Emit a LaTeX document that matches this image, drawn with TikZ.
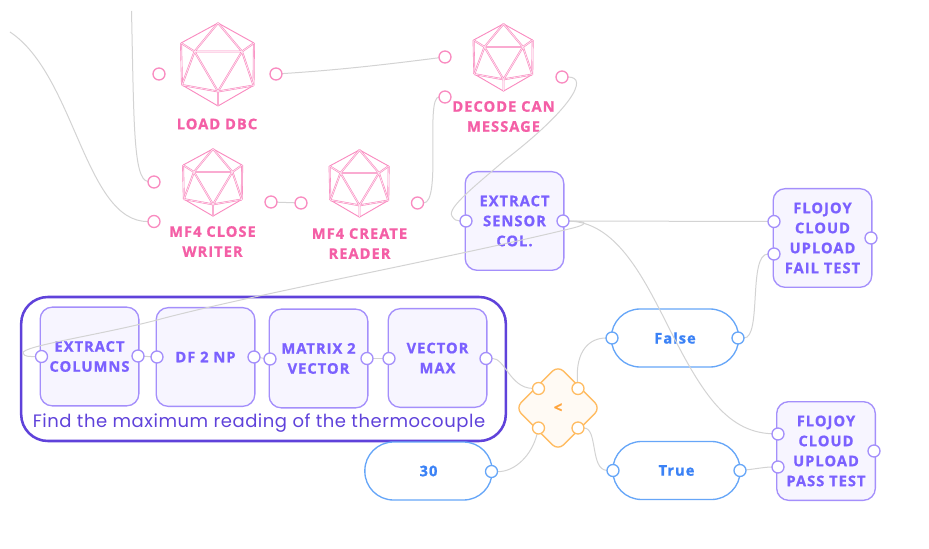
\documentclass[tikz,border=0pt]{standalone}
\usepackage{fontspec}
\setmainfont{Open Sans}[BoldFeatures={FakeBold=0.9},LetterSpace=7]
\newfontfamily\handfont{Poppins}[LetterSpace=3]
\definecolor{pinktxt}{HTML}{F45FA6}
\definecolor{pinkln}{HTML}{F98BC0}
\definecolor{purptxt}{HTML}{7B61FF}
\definecolor{purpln}{HTML}{A48FFB}
\definecolor{purpfill}{HTML}{F7F5FF}
\definecolor{bluetxt}{HTML}{3B82F6}
\definecolor{blueln}{HTML}{66A6F8}
\definecolor{orgln}{HTML}{FFBC62}
\definecolor{orgtxt}{HTML}{FFA53D}
\definecolor{orgfill}{HTML}{FFFAF4}
\definecolor{grpln}{HTML}{5F42DA}
\definecolor{wire}{HTML}{D3D3D3}
\pgfdeclarelayer{boxes}
\pgfdeclarelayer{wires}
\pgfsetlayers{boxes,wires,main}
\tikzset{
  lab/.style={font=\fontsize{11}{15}\selectfont\bfseries,align=center,inner sep=0pt},
  purpbox/.style={draw=purpln,fill=purpfill,line width=1pt,rounded corners=9pt,minimum width=74pt,minimum height=74pt,text=purptxt,lab},
  pill/.style={draw=blueln,fill=white,line width=1pt,rounded corners=21.5pt,minimum width=95.5pt,minimum height=43.5pt,text=bluetxt,lab},
  pinklab/.style={lab,text=pinktxt},
  port/.style={circle,fill=white,line width=1pt,minimum size=9pt,inner sep=0pt,outer sep=0pt},
  pport/.style={port,draw=pinkln},
  vport/.style={port,draw=purpln},
  bport/.style={port,draw=blueln},
  oport/.style={port,draw=orgln},
  wireln/.style={draw=wire,line width=0.75pt},
  ico/.style={draw=pinkln,line width=0.45pt,double=white!40!pinkln!35!white,double distance=0.5pt},
  icosa/.pic={
    \coordinate (T) at (0,-41.5);\coordinate (UR) at (36,-21.5);\coordinate (LR) at (35.5,21);
    \coordinate (B) at (0,41.5);\coordinate (LL) at (-36,20.5);\coordinate (UL) at (-37,-21.5);
    \coordinate (IL) at (-23.5,-13);\coordinate (IR) at (24,-13);\coordinate (IB) at (0,27);
    \draw[pinkln,line width=0.7pt,line join=round] (T)--(UR) (LR)--(B)--(LL) (UL)--(T);
    \draw[ico] (UR)--(LR) (LL)--(UL);
    \draw[ico] (T)--(IL) (T)--(IR) (UL)--(IL) (UR)--(IR) (LL)--(IL) (LR)--(IR) (LL)--(IB) (LR)--(IB) (B)--(IB) (IL)--(IR)--(IB)--cycle;
  }
}
\begin{document}
\begin{tikzpicture}[x=0.75pt,y=-0.75pt]
\useasboundingbox (0,0) rectangle (929,549);
\begin{pgfonlayer}{boxes}
  \node[draw=grpln,line width=1.9pt,rounded corners=20pt,minimum width=363.5pt,minimum height=108pt,inner sep=0pt] (group) at (263.5,369) {};
  \node[purpbox] (xcol) at (89.5,356.5) {EXTRACT\\COLUMNS};
  \node[purpbox] (df) at (205.5,357) {DF 2 NP};
  \node[purpbox] (mat) at (318.5,358.5) {MATRIX 2\\VECTOR};
  \node[purpbox] (vmax) at (437.5,358) {VECTOR\\MAX};
  \node[purpbox] (xsens) at (514.5,221) {EXTRACT\\SENSOR\\COL.};
  \node[purpbox] (fail) at (822.5,238) {FLOJOY\\CLOUD\\UPLOAD\\FAIL TEST};
  \node[purpbox] (pass) at (826,451) {FLOJOY\\CLOUD\\UPLOAD\\PASS TEST};
  \node[pill] (false) at (675,338) {False};
  \node[pill] (true) at (676.5,470.5) {True};
  \node[pill] (thirty) at (428.5,471) {30};
  \node[draw=orgln,fill=orgfill,line width=1pt,rounded corners=6pt,minimum width=45pt,minimum height=45pt,rotate=45,inner sep=0pt] (cmp) at (558,408) {};
  \node[lab,text=orgtxt] (cmplab) at (558,408) {<};
  \pic[scale=1] at (218,64.5) {icosa};
  \pic[scale=0.81] at (213,182.5) {icosa};
  \pic[scale=0.81] at (359.5,183.5) {icosa};
  \pic[scale=0.81] at (503.5,57.5) {icosa};
  \node[pinklab] (ldbc) at (217,124) {LOAD DBC};
  \node[pinklab] (mclose) at (212.5,241.5) {MF4 CLOSE\\WRITER};
  \node[pinklab] (mcreate) at (359.5,243.5) {MF4 CREATE\\READER};
  \node[pinklab] (decode) at (503.5,116.5) {DECODE CAN\\MESSAGE};
  \node[inner sep=0pt,text=grpln,font=\handfont\fontsize{13.5}{15}\selectfont] (cap) at (259,423) {Find the maximum reading of the thermocouple};
\end{pgfonlayer}
% ports
\node[pport] (dbcL) at (159,74) {};
\node[pport] (dbcR) at (276,74) {};
\node[pport] (clA) at (154,182) {};
\node[pport] (clB) at (154,221.5) {};
\node[pport] (clR) at (271,202) {};
\node[pport] (crL) at (301,203) {};
\node[pport] (crR) at (417.5,203) {};
\node[pport] (deA) at (445,57) {};
\node[pport] (deB) at (445,97) {};
\node[pport] (deR) at (562,77) {};
\node[vport] (xsL) at (466,221) {};
\node[vport] (xsR) at (563,221) {};
\node[vport] (faA) at (774,221.5) {};
\node[vport] (faB) at (774,254) {};
\node[vport] (faR) at (871,238) {};
\node[vport] (paA) at (778,434) {};
\node[vport] (paB) at (778,467) {};
\node[vport] (paR) at (874,451) {};
\node[vport] (xcL) at (41.5,356.5) {};
\node[vport] (xcR) at (138,356) {};
\node[vport] (dfL) at (157,357) {};
\node[vport] (dfR) at (254,357) {};
\node[vport] (maL) at (270,359) {};
\node[vport] (maR) at (367,358.5) {};
\node[vport] (vmL) at (389,358.5) {};
\node[vport] (vmR) at (486,358.5) {};
\node[bport] (flL) at (612,338) {};
\node[bport] (flR) at (738,338) {};
\node[bport] (trL) at (613,470.5) {};
\node[bport] (trR) at (740,470.5) {};
\node[bport] (thR) at (491.5,471.5) {};
\node[oport] (cUL) at (538.5,388.5) {};
\node[oport] (cUR) at (578,388.5) {};
\node[oport] (cLL) at (538.5,428) {};
\node[oport] (cLR) at (578,428) {};
\coordinate (freeA) at (131.5,11);
\coordinate (freeB) at (10,32);
\begin{pgfonlayer}{wires}
  \draw[wireln] (freeA) .. controls (134,120) and (133,180) .. (clA);
  \draw[wireln] (freeB) .. controls (75,75) and (85,222) .. (clB);
  \draw[wireln] (dbcR) .. controls (340,70) and (390,64) .. (deA);
  \draw[wireln] (clR) -- (crL);
  \draw[wireln] (crR) .. controls (442,203) and (425,97) .. (deB);
  \draw[wireln] (deR) .. controls (590,77) and (570,110) .. (505,160) .. controls (480,182) and (446,208) .. (452,216) .. controls (454,220) and (457,221) .. (xsL);
  \draw[wireln] (xsR) -- (faA);
  \draw[wireln] (xsR) .. controls (615,222) and (642,275) .. (665,320) .. controls (700,390) and (725,432) .. (paA);
  \draw[wireln] (xsR) .. controls (592,221) and (585,225) .. (573,228) .. controls (450,258) and (250,295) .. (157,320) .. controls (100,335) and (22,346) .. (23,353) .. controls (24,357) and (30,356.5) .. (xcL);
  \draw[wireln] (xcR) -- (dfL);
  \draw[wireln] (dfR) -- (maL);
  \draw[wireln] (maR) -- (vmL);
  \draw[wireln] (vmR) .. controls (505,358) and (510,388) .. (cUL);
  \draw[wireln] (thR) .. controls (515,472) and (532,455) .. (cLL);
  \draw[wireln] (cUR) .. controls (575,350) and (590,338) .. (flL);
  \draw[wireln] (cLR) .. controls (598,428) and (590,470) .. (trL);
  \draw[wireln] (flR) .. controls (762,338) and (748,254) .. (faB);
  \draw[wireln] (trR) .. controls (755,469) and (765,467) .. (paB);
\end{pgfonlayer}
\end{tikzpicture}
\end{document}
